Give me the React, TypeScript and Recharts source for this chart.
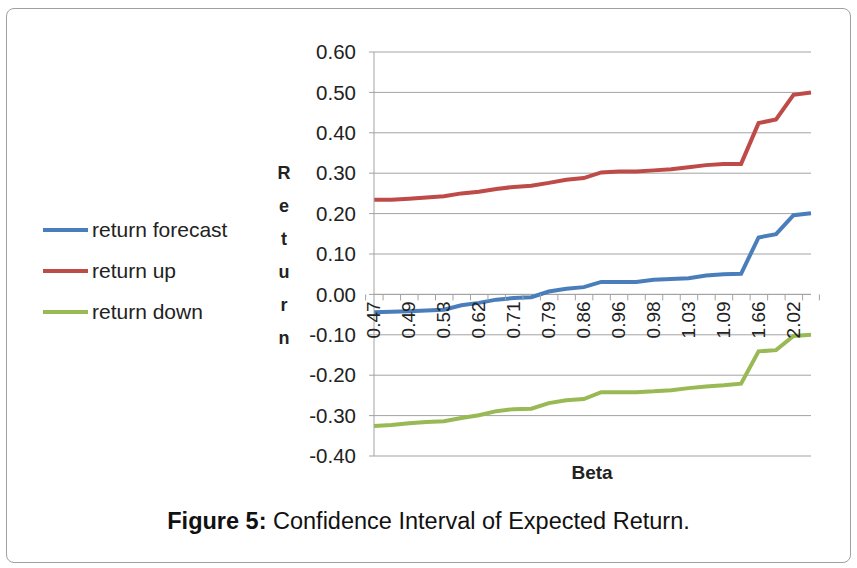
import React from 'react';
import { LineChart, Line, XAxis, YAxis, CartesianGrid, ReferenceLine, ReferenceDot } from 'recharts';

// beta values (x categories), only every other one is labelled on the axis
const betas = [
  '0.47', '0.48', '0.49', '0.51', '0.53', '0.57', '0.62', '0.66', '0.71', '0.75', '0.79', '0.83', '0.86',
  '0.93', '0.96', '0.97', '0.98', '1.01', '1.03', '1.06', '1.09', '1.12', '1.66', '1.80', '2.02', '2.10',
];

const returnForecast = [
  -0.044, -0.043, -0.042, -0.04, -0.038, -0.027, -0.021, -0.013, -0.009, -0.007, 0.007, 0.014, 0.018,
  0.031, 0.031, 0.031, 0.036, 0.038, 0.04, 0.047, 0.05, 0.051, 0.141, 0.149, 0.196, 0.201,
];

const returnUp = [
  0.234, 0.234, 0.237, 0.24, 0.243, 0.25, 0.254, 0.261, 0.266, 0.269, 0.276, 0.284, 0.288,
  0.302, 0.304, 0.304, 0.307, 0.31, 0.315, 0.32, 0.323, 0.323, 0.424, 0.433, 0.494, 0.5,
];

const returnDown = [
  -0.326, -0.323, -0.319, -0.316, -0.314, -0.306, -0.299, -0.289, -0.284, -0.283, -0.269, -0.262, -0.259,
  -0.242, -0.242, -0.242, -0.24, -0.237, -0.232, -0.228, -0.225, -0.221, -0.141, -0.138, -0.103, -0.1,
];

const yTicks = [-0.4, -0.3, -0.2, -0.1, 0, 0.1, 0.2, 0.3, 0.4, 0.5, 0.6];

const series = [
  { key: 'forecast', name: 'return forecast', color: '#4a7ebb' },
  { key: 'up', name: 'return up', color: '#be4b48' },
  { key: 'down', name: 'return down', color: '#98b954' },
];

const data = betas.map((beta, i) => ({
  beta,
  forecast: returnForecast[i],
  up: returnUp[i],
  down: returnDown[i],
}));

const W = 857;
const H = 568;
const margin = { top: 52, right: 46, bottom: 112, left: 314 };
const Y_AXIS_W = 60;
const plotW = W - margin.left - Y_AXIS_W - margin.right;
const band = plotW / betas.length;

const FONT = '"Liberation Sans", Arial, sans-serif';
const GRID = '#a3a3a3';

const AxisTick = ({ cx, cy, index }: any) => {
  if (cx == null || cy == null) return null;
  const last = index === betas.length - 1;
  return (
    <g>
      <line x1={cx - band / 2} x2={cx - band / 2} y1={cy} y2={cy + 6} stroke={GRID} />
      {last && <line x1={cx + band / 2} x2={cx + band / 2} y1={cy} y2={cy + 6} stroke={GRID} />}
      {index % 2 === 0 && (
        <text
          x={cx}
          y={cy + 7}
          transform={`rotate(-90, ${cx}, ${cy + 7})`}
          textAnchor="end"
          dominantBaseline="central"
          fontSize={19}
          fontFamily={FONT}
          fill="#222"
        >
          {betas[index]}
        </text>
      )}
    </g>
  );
};

const YLabel = ({ viewBox }: any) => {
  const letters = 'Return'.split('');
  const x = viewBox.x - 30;
  return (
    <g>
      {letters.map((ch, i) => (
        <text
          key={i}
          x={x}
          y={173 + i * 33}
          textAnchor="middle"
          dominantBaseline="central"
          fontSize={18}
          fontWeight="bold"
          fontFamily={FONT}
          fill="#222"
        >
          {ch}
        </text>
      ))}
    </g>
  );
};

export default function App() {
  return (
    <div style={{ position: 'relative', width: W, height: H, background: '#fff' }}>
      <style>{`body{margin:0}`}</style>
      <div
        style={{
          position: 'absolute',
          left: 6,
          top: 8,
          width: 843,
          height: 553,
          border: '1px solid #a0a0a0',
          borderRadius: 8,
        }}
      />
      <div style={{ position: 'absolute', left: 0, top: 0 }}>
        <LineChart width={W} height={H} data={data} margin={margin}>
          <CartesianGrid vertical={false} stroke={GRID} />
          <XAxis dataKey="beta" hide />
          <YAxis
            width={Y_AXIS_W}
            domain={[-0.4, 0.6]}
            ticks={yTicks}
            tickFormatter={(v: number) => v.toFixed(2)}
            tick={{ fill: '#222', fontSize: 20.5, fontFamily: FONT }}
            axisLine={{ stroke: GRID }}
            tickLine={{ stroke: GRID }}
            tickSize={5}
            tickMargin={13}
            label={{ content: <YLabel /> }}
          />
          <ReferenceLine y={0} stroke={GRID} />
          {betas.map((b, i) => (
            <ReferenceDot
              key={b}
              x={b}
              y={0}
              r={0}
              ifOverflow="visible"
              shape={(p: any) => <AxisTick {...p} index={i} />}
            />
          ))}
          {series.map((s) => (
            <Line
              key={s.key}
              type="linear"
              dataKey={s.key}
              name={s.name}
              stroke={s.color}
              strokeWidth={4}
              dot={false}
              isAnimationActive={false}
            />
          ))}
        </LineChart>
      </div>
      <div style={{ position: 'absolute', left: 43, top: 209, fontFamily: FONT }}>
        {series.map((s) => (
          <div key={s.key} style={{ display: 'flex', alignItems: 'center', height: 41 }}>
            <div style={{ width: 45, height: 4, background: s.color, marginRight: 4 }} />
            <span style={{ fontSize: 21, color: '#222' }}>{s.name}</span>
          </div>
        ))}
      </div>
      <div
        style={{
          position: 'absolute',
          left: 592,
          top: 462,
          transform: 'translateX(-50%)',
          fontFamily: FONT,
          fontWeight: 'bold',
          fontSize: 19,
          color: '#222',
        }}
      >
        Beta
      </div>
      <div
        style={{
          position: 'absolute',
          left: 0,
          width: W,
          top: 508,
          textAlign: 'center',
          fontFamily: FONT,
          fontSize: 23.5,
          color: '#111',
        }}
      >
        <b>Figure 5:</b> Confidence Interval of Expected Return.
      </div>
    </div>
  );
}
